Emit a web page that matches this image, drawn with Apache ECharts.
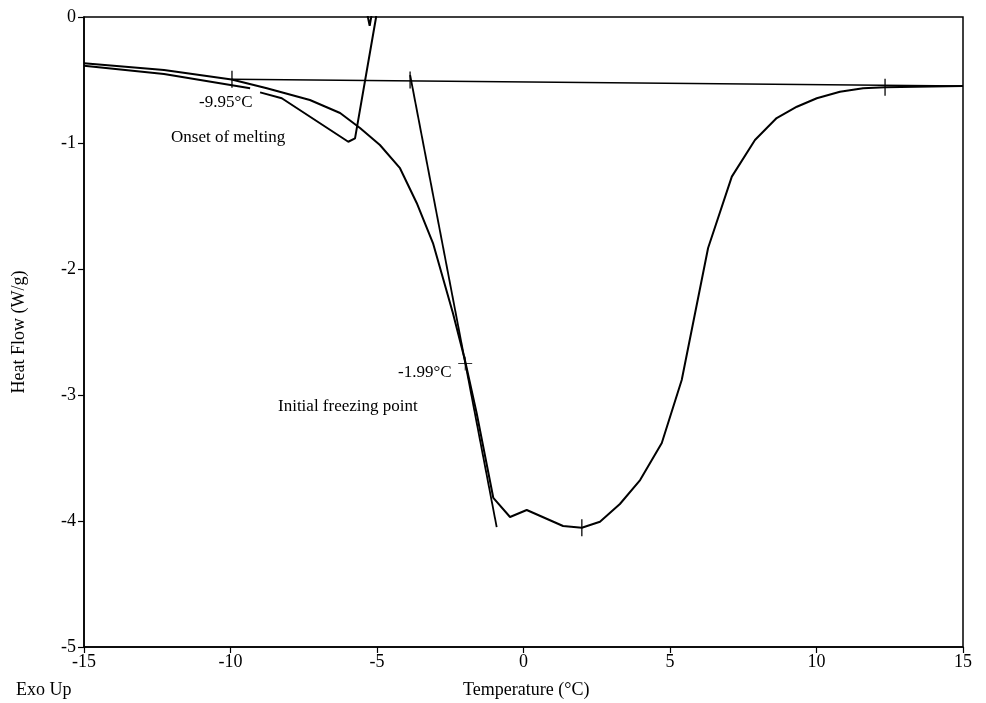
<!DOCTYPE html>
<html>
<head>
<meta charset="utf-8">
<script src="https://cdn.jsdelivr.net/npm/echarts@6/dist/echarts.min.js"></script>
<style>html,body{margin:0;padding:0;background:#fff}#c{width:986px;height:703px}</style>
</head>
<body>
<div id="c"></div>
<script>
// Main DSC curve (freezing / melting endotherm)
var mainT  = [-15, -12.27, -9.96, -8.76, -7.29, -6.26, -5.58, -4.90, -4.215, -3.645, -3.09, -2.41, -2.0, -1.60, -1.03, -0.46, 0.11, 1.35, 1.99, 2.61, 3.29, 3.98, 4.72, 5.40, 6.30, 7.11, 7.90, 8.64, 9.33, 10.01, 10.80, 11.59, 12.34, 15];
var mainHF = [-0.367, -0.421, -0.496, -0.566, -0.659, -0.762, -0.881, -1.016, -1.20, -1.476, -1.794, -2.349, -2.722, -3.143, -3.817, -3.968, -3.913, -4.040, -4.053, -4.006, -3.865, -3.675, -3.381, -2.881, -1.833, -1.267, -0.976, -0.802, -0.712, -0.645, -0.593, -0.566, -0.558, -0.548];
// Second curve (onset of melting, leaves through the top); null = small gap in the trace
var meltT  = [-15, -12.27, -9.33, -9.1, -8.99, -8.25, -5.98, -5.75, -5.03, -5.08, -5.40, -5.25, -5.12];
var meltHF = [-0.387, -0.452, -0.566, null, -0.598, -0.645, -0.990, -0.963, 0.0, 0.3, 0.1, -0.07, 0.1];
// Baseline
var baseT  = [-9.96, 15];
var baseHF = [-0.494, -0.548];
// Tangent line for initial freezing point
var tanT  = [-3.87, -0.915];
var tanHF = [-0.46, -4.048];
// Marker ticks
var tickT  = [-9.95, -3.87, 1.99, 12.34];
var tickHF = [-0.494, -0.50, -4.053, -0.558];
var crossT = [-1.99];
var crossHF = [-2.75];
// Axis ticks
var xTicks = [-15, -10, -5, 0, 5, 10, 15];
var yTicks = [-5, -4, -3, -2, -1, 0];

function zip(a, b) { return a.map(function (v, i) { return [v, b[i] === null ? '-' : b[i]]; }); }

var FONT = "'Liberation Serif', 'Times New Roman', serif";
var chart = echarts.init(document.getElementById('c'));
var lineBase = { type: 'line', showSymbol: false, symbol: 'none', silent: true, clip: true, animation: false, connectNulls: false };

chart.setOption({
  backgroundColor: '#fff',
  animation: false,
  grid: { left: 84, right: 23, top: 17, bottom: 56, show: true, borderColor: '#000', borderWidth: 1.5, backgroundColor: 'transparent' },
  xAxis: {
    type: 'value', min: xTicks[0], max: xTicks[xTicks.length - 1], interval: 5,
    axisLine: { show: true, onZero: false, lineStyle: { color: '#000', width: 1.5 } },
    axisTick: { show: true, length: 6, lineStyle: { color: '#000', width: 1.2 } },
    axisLabel: { color: '#000', fontFamily: FONT, fontSize: 18, margin: 6 },
    splitLine: { show: false }
  },
  yAxis: {
    type: 'value', min: yTicks[0], max: yTicks[yTicks.length - 1], interval: 1,
    name: 'Heat Flow (W/g)', nameLocation: 'middle', nameRotate: 90, nameGap: 56,
    nameTextStyle: { color: '#000', fontFamily: FONT, fontSize: 18 },
    axisLine: { show: true, onZero: false, lineStyle: { color: '#000', width: 1.5 } },
    axisTick: { show: true, length: 6, lineStyle: { color: '#000', width: 1.2 } },
    axisLabel: { color: '#000', fontFamily: FONT, fontSize: 18, margin: 8 },
    splitLine: { show: false }
  },
  graphic: [
    { type: 'text', left: 16, top: 681, style: { text: 'Exo Up', font: '18px ' + FONT, fill: '#000' } },
    { type: 'text', left: 463, top: 681, style: { text: 'Temperature (°C)', font: '18px ' + FONT, fill: '#000' } },
    { type: 'text', left: 199, top: 94, style: { text: '-9.95°C', font: '17px ' + FONT, fill: '#000' } },
    { type: 'text', left: 171, top: 129, style: { text: 'Onset of melting', font: '17px ' + FONT, fill: '#000' } },
    { type: 'text', left: 398, top: 364, style: { text: '-1.99°C', font: '17px ' + FONT, fill: '#000' } },
    { type: 'text', left: 278, top: 398, style: { text: 'Initial freezing point', font: '17px ' + FONT, fill: '#000' } }
  ],
  series: [
    Object.assign({}, lineBase, { data: zip(mainT, mainHF), lineStyle: { color: '#000', width: 2 } }),
    Object.assign({}, lineBase, { data: zip(meltT, meltHF), lineStyle: { color: '#000', width: 2 } }),
    Object.assign({}, lineBase, { data: zip(baseT, baseHF), lineStyle: { color: '#000', width: 1.5 } }),
    Object.assign({}, lineBase, { data: zip(tanT, tanHF), lineStyle: { color: '#000', width: 1.8 } }),
    { type: 'scatter', silent: true, data: zip(tickT, tickHF), symbol: 'rect', symbolSize: [1.6, 17], itemStyle: { color: '#000' } },
    { type: 'scatter', silent: true, data: zip(crossT, crossHF), symbol: 'path://M0,6.5L14,6.5L14,7.5L0,7.5Z M6.5,0L7.5,0L7.5,14L6.5,14Z', symbolSize: [14, 14], itemStyle: { color: '#000' } }
  ]
});
</script>
</body>
</html>
